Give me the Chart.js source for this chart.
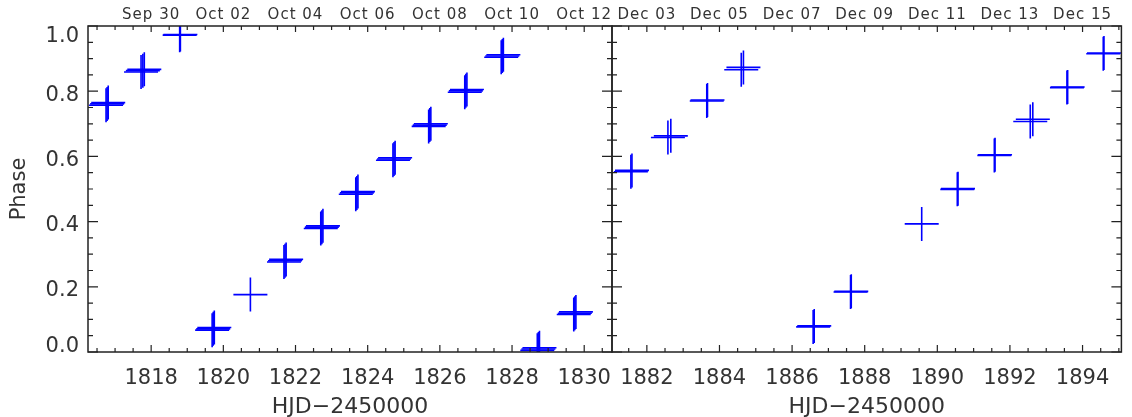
<!DOCTYPE html>
<html>
<head>
<meta charset="utf-8">
<script src="https://cdn.jsdelivr.net/npm/chart.js@4/dist/chart.umd.min.js"></script>
<style>
  html, body { margin: 0; padding: 0; background: #fff; overflow: hidden; width: 1132px; height: 417px; }
  #wrap { position: relative; width: 1140px; height: 417px; }
  canvas { position: absolute; left: 0; top: 0; }
</style>
</head>
<body>
<div id="wrap">
  <canvas id="octChart" width="1140" height="417"></canvas>
  <canvas id="decChart" width="1140" height="417"></canvas>
</div>
<script>
// October run (several exposures per night, so the crosses pile up)
const octHjd = [1816.75, 1816.78, 1816.81, 1817.72, 1817.77, 1817.81, 1818.79, 1818.81,
  1819.69, 1819.72, 1819.75, 1820.75, 1821.68, 1821.71, 1821.74, 1822.70, 1822.73, 1822.76,
  1823.67, 1823.70, 1823.73, 1824.70, 1824.73, 1824.76, 1825.69, 1825.72, 1825.75,
  1826.69, 1826.72, 1826.75, 1827.70, 1827.73, 1827.76, 1828.70, 1828.73, 1828.76,
  1829.71, 1829.74, 1829.77];
const octPhase = [0.757, 0.761, 0.765, 0.859, 0.863, 0.867, 0.972, 0.974,
  0.067, 0.071, 0.075, 0.176, 0.276, 0.280, 0.284, 0.379, 0.383, 0.387,
  0.484, 0.488, 0.492, 0.588, 0.592, 0.596, 0.692, 0.696, 0.700,
  0.797, 0.801, 0.805, 0.904, 0.908, 0.912, 0.005, 0.009, 0.013,
  0.115, 0.119, 0.123];

// December run
const decHjd = [1881.56, 1881.59, 1882.58, 1882.66, 1883.65, 1883.67, 1884.60, 1884.66,
  1886.58, 1886.61, 1887.61, 1887.63, 1889.57, 1890.55, 1890.57, 1891.57, 1891.59,
  1892.56, 1892.63, 1893.57, 1893.59, 1894.57, 1894.59];
const decPhase = [0.553, 0.557, 0.658, 0.663, 0.770, 0.773, 0.866, 0.873,
  0.077, 0.080, 0.184, 0.186, 0.393, 0.499, 0.501, 0.603, 0.605,
  0.707, 0.714, 0.811, 0.813, 0.915, 0.917];

const octTicks = [1818, 1820, 1822, 1824, 1826, 1828, 1830];
const octDates = ['Sep 30', 'Oct 02', 'Oct 04', 'Oct 06', 'Oct 08', 'Oct 10', 'Oct 12'];
const decTicks = [1882, 1884, 1886, 1888, 1890, 1892, 1894];
const decDates = ['Dec 03', 'Dec 05', 'Dec 07', 'Dec 09', 'Dec 11', 'Dec 13', 'Dec 15'];
const phaseTicks = [0.0, 0.2, 0.4, 0.6, 0.8, 1.0];

const fontFamily = '"DejaVu Sans", sans-serif';
const ink = '#222';
const textInk = '#333';

// IDL style box: ticks inside on all four sides, labels drawn by hand
function boxAxes(cfg) {
  return {
    id: 'boxAxes',
    afterDraw(chart) {
      const { ctx, chartArea: { left, right, top, bottom }, scales: { x, y } } = chart;
      ctx.save();
      ctx.strokeStyle = ink;
      ctx.lineWidth = 1.5;
      ctx.strokeRect(left, top, right - left, bottom - top);

      ctx.lineWidth = 1.2;
      ctx.beginPath();
      for (let v = Math.ceil(x.min * 2) / 2; v <= x.max; v += 0.5) {
        const px = x.getPixelForValue(v);
        const major = cfg.ticks.includes(v);
        ctx.moveTo(px, bottom); ctx.lineTo(px, bottom - (major ? 7 : 4));
        ctx.moveTo(px, top); ctx.lineTo(px, top + (major ? 6 : 4));
      }
      for (let k = 0; k <= 20; k++) {
        const py = y.getPixelForValue(k * 0.05);
        const len = k % 4 === 0 ? 10 : 5;
        ctx.moveTo(left, py); ctx.lineTo(left + len, py);
        ctx.moveTo(right, py); ctx.lineTo(right - len, py);
      }
      ctx.stroke();

      ctx.fillStyle = textInk;
      ctx.textAlign = 'center';
      ctx.textBaseline = 'alphabetic';
      ctx.font = '21px ' + fontFamily;
      cfg.ticks.forEach(t => ctx.fillText(String(t), x.getPixelForValue(t), 384));

      ctx.font = '15px ' + fontFamily;
      ctx.letterSpacing = '1px';
      cfg.ticks.forEach((t, i) => ctx.fillText(cfg.dates[i], x.getPixelForValue(t), 19));
      ctx.letterSpacing = '0px';

      ctx.font = '22px ' + fontFamily;
      ctx.fillText('HJD\u22122450000', (left + right) / 2, 413);

      if (cfg.phaseLabels) {
        ctx.font = '21px ' + fontFamily;
        ctx.textAlign = 'right';
        phaseTicks.forEach(v => {
          const py = y.getPixelForValue(v);
          const base = Math.max(top + 15.5, Math.min(bottom, py + 9.5));
          ctx.fillText(v.toFixed(1), left - 9, base);
        });
        ctx.translate(25, (top + bottom) / 2);
        ctx.rotate(-Math.PI / 2);
        ctx.textAlign = 'center';
        ctx.fillText('Phase', 0, 0);
      }
      ctx.restore();
    }
  };
}

function makePanel(id, hjd, phase, xMin, xMax, padLeft, padRight, cfg) {
  return new Chart(document.getElementById(id).getContext('2d'), {
    type: 'scatter',
    data: {
      datasets: [{
        data: hjd.map((h, i) => ({ x: h, y: phase[i] })),
        pointStyle: 'cross',
        pointRadius: 17,
        borderColor: '#0000ff',
        borderWidth: 1.6,
        clip: 0,
      }],
    },
    options: {
      responsive: false,
      animation: false,
      events: [],
      devicePixelRatio: 1,
      layout: { padding: { left: padLeft, right: padRight, top: 26, bottom: 65 } },
      scales: {
        x: { type: 'linear', display: false, min: xMin, max: xMax },
        y: { type: 'linear', display: false, min: 0, max: 1 },
      },
      plugins: { legend: { display: false }, tooltip: { enabled: false } },
    },
    plugins: [boxAxes(cfg)],
  });
}

makePanel('octChart', octHjd, octPhase, 1816.25, 1830.77, 88, 528,
  { ticks: octTicks, dates: octDates, phaseLabels: true });
makePanel('decChart', decHjd, decPhase, 1881.04, 1895.07, 612, 3,
  { ticks: decTicks, dates: decDates, phaseLabels: false });
</script>
</body>
</html>
